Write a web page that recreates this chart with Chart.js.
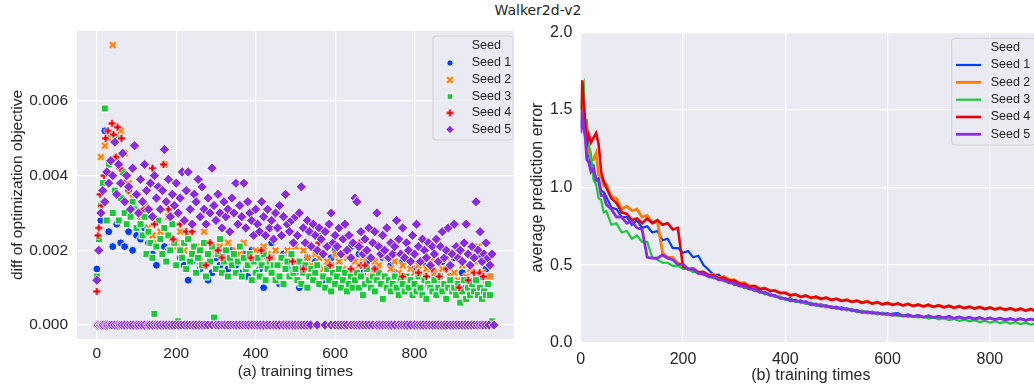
<!DOCTYPE html>
<html>
<head>
<meta charset="utf-8">
<script src="https://cdn.jsdelivr.net/npm/chart.js@4.4.1/dist/chart.umd.min.js"></script>
<style>
  html, body { margin: 0; padding: 0; background: #fff; width: 1034px; height: 389px; overflow: hidden; }
  #title { position: absolute; left: 438px; width: 200px; top: 2px; text-align: center; font: 14px "DejaVu Sans", sans-serif; color: #262626; }
  #left { position: absolute; left: 0; top: 0; }
  #right { position: absolute; left: 520px; top: 0; }
</style>
</head>
<body>
<div id="title">Walker2d-v2</div>
<canvas id="left" width="520" height="389"></canvas>
<canvas id="right" width="521" height="389"></canvas>
<script>
// ---- shared ----
const seedNames = ['Seed 1', 'Seed 2', 'Seed 3', 'Seed 4', 'Seed 5'];
const seedColors = ['#023eff', '#ff7c00', '#1ac938', '#e8000b', '#8b2be2'];

// ---- (a) diff of optimization objective, values in units of 1e-4 ----
const diffXTicks = [0, 200, 400, 600, 800];
const diffYTicks = [0, 0.002, 0.004, 0.006];

// seed 1 and seed 2 sampled every 10 training times (0..990)
const seed1Diff = [
  15, 28, 52, 25, 21, 27, 22, 21, 25, 20,
  24, 23, 26, 22, 19, 16, 23, 21, 20, 23,
  21, 18, 16, 12, 17, 19, 15, 16, 12, 14,
  18, 16, 19, 15, 20, 16, 14, 19, 13, 20,
  17, 15, 10, 18, 22, 16, 11, 19, 15, 17,
  14, 10, 16, 18, 13, 17, 19, 12, 15, 18,
  20, 14, 12, 9, 21, 10, 19, 14, 17, 12,
  15, 13, 18, 11, 16, 14, 12, 17, 13, 10,
  15, 9, 13, 16, 11, 14, 12, 17, 10, 13,
  18, 11, 14, 10, 16, 12, 18, 13, 15, 13
];
const seed2Diff = [
  13, 45, 48, 50, 75, 44, 52, 46, 38, 34,
  30, 28, 32, 26, 24, 22, 25, 43, 29, 21,
  22, 25, 20, 24, 19, 21, 17, 25, 22, 20,
  19, 21, 18, 22, 17, 20, 19, 22, 16, 18,
  20, 17, 21, 19, 18, 20, 16, 18, 20, 17,
  21, 17, 20, 18, 16, 19, 18, 15, 17, 16,
  19, 17, 15, 18, 14, 17, 16, 18, 15, 14,
  17, 16, 13, 18, 15, 17, 14, 16, 18, 15,
  14, 16, 13, 15, 17, 14, 12, 15, 18, 13,
  14, 12, 16, 13, 15, 17, 21, 14, 12, 13
];
// seed 3 and seed 5 sampled every 5 training times (0..995)
const seed3Diff = [
  13, 23, 32, 38, 58, 28, 43, 51, 30, 36,
  50, 28, 34, 41, 30, 27, 36, 29, 33, 31,
  26, 30, 27, 24, 29, 19, 25, 22, 18, 3,
  21, 28, 23, 19, 26, 17, 24, 20, 27, 22,
  16, 1, 20, 18, 22, 15, 23, 17, 19, 21,
  14, 18, 20, 16, 22, 13, 19, 17, 21, 2,
  15, 19, 23, 14, 17, 20, 13, 18, 16, 19,
  14, 17, 21, 13, 18, 15, 16, 19, 12, 17,
  14, 18, 13, 16, 19, 12, 15, 17, 14, 16,
  12, 16, 13, 18, 11, 15, 17, 13, 19, 14,
  15, 12, 17, 11, 14, 16, 10, 13, 15, 12,
  14, 16, 11, 25, 13, 10, 15, 12, 9, 14,
  11, 13, 15, 10, 12, 14, 9, 11, 13, 10,
  12, 14, 10, 13, 8, 11, 15, 12, 10, 13,
  9, 12, 14, 11, 7, 13, 10, 12, 9, 11,
  13, 10, 8, 12, 11, 9, 13, 10, 12, 8,
  11, 9, 13, 10, 8, 12, 7, 11, 10, 9,
  12, 8, 10, 13, 9, 11, 7, 10, 12, 9,
  10, 8, 11, 6, 9, 12, 7, 10, 8, 11,
  9, 12, 8, 10, 7, 9, 8, 11, 8, 1
];
const seed5Diff = [
  12, 20, 30, 36, 33, 41, 38, 44, 40, 49,
  35, 43, 38, 46, 33, 40, 37, 31, 42, 48,
  35, 30, 39, 33, 43, 36, 31, 38, 29, 40,
  34, 37, 31, 36, 47, 33, 39, 29, 35, 32,
  38, 30, 34, 41, 28, 36, 41, 31, 27, 35,
  33, 39, 29, 37, 31, 27, 34, 30, 42, 32,
  28, 35, 30, 26, 33, 29, 31, 25, 34, 30,
  38, 27, 32, 29, 38, 26, 33, 30, 28, 24,
  31, 27, 25, 33, 29, 24, 31, 26, 28, 23,
  30, 26, 32, 24, 29, 35, 27, 25, 28, 22,
  29, 24, 30, 37, 26, 22, 28, 25, 21, 27,
  24, 20, 26, 23, 19, 25, 21, 27, 30, 22,
  24, 21, 26, 19, 23, 27, 20, 24, 18, 22,
  34, 33, 21, 25, 19, 23, 20, 26, 18, 22,
  25, 30, 21, 19, 24, 20, 26, 18, 22, 19,
  21, 28, 23, 19, 26, 18, 22, 20, 17, 24,
  19, 27, 21, 17, 23, 20, 18, 22, 16, 21,
  19, 23, 17, 21, 25, 18, 20, 26, 16, 19,
  27, 21, 18, 20, 17, 22, 27, 19, 16, 21,
  18, 33, 20, 25, 17, 19, 22, 18, 16, 19
];
// seed 4 only logged at a few training times
const seed4Times = [0, 3, 5, 8, 12, 18, 22, 28, 32, 38, 42, 48, 52, 58, 62, 70, 80, 118, 140, 145,
  168, 180, 192, 210, 225, 240, 275, 285, 305, 315, 388, 414, 435, 493, 520, 559, 587, 640, 661, 665,
  675, 700, 730, 770, 810, 830, 844, 862, 880, 912, 935, 950, 964, 973];
const seed4Diff = [9, 24, 26, 35, 32, 40, 50, 52, 44, 54, 51, 45, 53, 42, 50, 38, 36, 31, 42, 27,
  43, 31, 23, 27, 25, 25, 16, 22, 20, 18, 18, 20, 18, 17, 15, 22, 16, 15, 22, 16,
  16, 15, 18, 13, 14, 13, 15, 13, 15, 10, 12, 14, 14, 13];
// training times where seed 5 diff was exactly 0
const seed5ZeroTimes = [0, 4, 8, 12, 16, 22, 27, 33, 38, 45, 52, 58, 63, 70, 78, 85, 92, 100, 106, 113,
  120, 128, 133, 140, 147, 153, 160, 168, 175, 183, 190, 197, 205, 212, 220, 228, 235, 243, 250, 258,
  265, 272, 280, 290, 300, 307, 315, 322, 330, 338, 345, 352, 360, 368, 375, 382, 390, 398, 405, 412,
  420, 428, 436, 445, 452, 460, 470, 478, 485, 493, 500, 508, 515, 522, 530, 538, 555, 575, 590, 600,
  608, 615, 623, 630, 640, 648, 655, 662, 670, 678, 686, 695, 705, 712, 720, 728, 735, 742, 750, 760,
  768, 775, 782, 790, 800, 808, 815, 822, 830, 838, 845, 852, 860, 868, 875, 882, 890, 898, 905, 912,
  920, 928, 935, 943, 950, 958, 965, 972, 980, 988, 1000];

// ---- (b) average prediction error ----
const predXTicks = [0, 200, 400, 600, 800];
const predYTicks = [0, 0.5, 1, 1.5, 2];
const predTimes = [0, 3, 6, 9, 12, 16, 20, 25, 30, 35, 40, 45]
  .concat(Array.from({ length: 86 }, (_, i) => 50 + i * 10));

const seed1Err = [
  1.38, 1.52, 1.40, 1.36, 1.20, 1.22, 1.12, 1.14, 1.05, 1.06, 0.98, 0.97,
  0.94, 0.87, 0.86, 0.81, 0.81, 0.76, 0.79, 0.74, 0.75, 0.71,
  0.72, 0.66, 0.67, 0.61, 0.61, 0.58, 0.59, 0.55, 0.56, 0.50,
  0.47, 0.435, 0.438, 0.402, 0.408, 0.372, 0.378, 0.352, 0.358, 0.332,
  0.338, 0.312, 0.318, 0.293, 0.297, 0.278, 0.287, 0.263, 0.272, 0.252,
  0.258, 0.238, 0.248, 0.228, 0.236, 0.218, 0.228, 0.208, 0.217, 0.198,
  0.206, 0.19, 0.2, 0.183, 0.194, 0.178, 0.188, 0.19, 0.174, 0.182,
  0.168, 0.178, 0.164, 0.175, 0.162, 0.172, 0.159, 0.172, 0.157, 0.167,
  0.155, 0.165, 0.152, 0.164, 0.15, 0.161, 0.148, 0.16, 0.146, 0.157,
  0.144, 0.157, 0.143, 0.154, 0.144, 0.152
];
const seed2Err = [
  1.45, 1.58, 1.47, 1.42, 1.22, 1.25, 1.18, 1.18, 1.22, 1.08, 1.07, 1.01,
  1.02, 0.94, 0.93, 0.86, 0.88, 0.85, 0.86, 0.81, 0.82, 0.77,
  0.78, 0.58, 0.55, 0.55, 0.51, 0.51, 0.47, 0.48, 0.45, 0.455,
  0.435, 0.44, 0.418, 0.426, 0.404, 0.406, 0.384, 0.386, 0.364, 0.366,
  0.346, 0.352, 0.334, 0.338, 0.32, 0.324, 0.306, 0.312, 0.296, 0.304,
  0.288, 0.298, 0.282, 0.29, 0.276, 0.284, 0.27, 0.278, 0.264, 0.272,
  0.258, 0.268, 0.252, 0.262, 0.248, 0.258, 0.244, 0.254, 0.24, 0.251,
  0.237, 0.247, 0.234, 0.244, 0.231, 0.241, 0.228, 0.238, 0.225, 0.236,
  0.222, 0.233, 0.22, 0.23, 0.217, 0.228, 0.214, 0.225, 0.212, 0.222,
  0.209, 0.22, 0.206, 0.218, 0.204, 0.214
];
const seed3Err = [
  1.50, 1.62, 1.66, 1.42, 1.43, 1.27, 1.22, 1.05, 1.02, 0.93, 0.92, 0.84,
  0.85, 0.76, 0.77, 0.71, 0.72, 0.67, 0.69, 0.65, 0.65, 0.55,
  0.535, 0.515, 0.515, 0.495, 0.495, 0.475, 0.475, 0.455, 0.455, 0.435,
  0.435, 0.415, 0.415, 0.395, 0.395, 0.375, 0.375, 0.355, 0.355, 0.335,
  0.335, 0.315, 0.315, 0.295, 0.295, 0.275, 0.28, 0.265, 0.265, 0.25,
  0.255, 0.24, 0.245, 0.23, 0.235, 0.22, 0.225, 0.21, 0.215, 0.2,
  0.205, 0.192, 0.197, 0.185, 0.19, 0.178, 0.184, 0.172, 0.178, 0.166,
  0.172, 0.161, 0.167, 0.155, 0.162, 0.15, 0.158, 0.145, 0.153, 0.141,
  0.149, 0.137, 0.145, 0.133, 0.141, 0.13, 0.138, 0.126, 0.135, 0.123,
  0.132, 0.12, 0.129, 0.117, 0.126, 0.115
];
const seed4Err = [
  1.50, 1.69, 1.52, 1.42, 1.28, 1.34, 1.29, 1.32, 1.35, 1.28, 1.10, 1.04,
  1.00, 0.93, 0.90, 0.84, 0.83, 0.79, 0.80, 0.77, 0.80, 0.77,
  0.79, 0.76, 0.77, 0.73, 0.74, 0.49, 0.475, 0.475, 0.455, 0.455,
  0.435, 0.435, 0.415, 0.42, 0.4, 0.4, 0.38, 0.38, 0.36, 0.365,
  0.345, 0.35, 0.335, 0.335, 0.32, 0.32, 0.305, 0.31, 0.295, 0.303,
  0.29, 0.295, 0.283, 0.29, 0.275, 0.283, 0.27, 0.275, 0.263, 0.27,
  0.257, 0.265, 0.252, 0.26, 0.247, 0.255, 0.243, 0.252, 0.24, 0.249,
  0.237, 0.245, 0.234, 0.243, 0.231, 0.24, 0.228, 0.237, 0.225, 0.234,
  0.223, 0.231, 0.22, 0.23, 0.217, 0.226, 0.215, 0.223, 0.212, 0.221,
  0.209, 0.219, 0.206, 0.216, 0.203, 0.212
];
const seed5Err = [
  1.35, 1.50, 1.38, 1.32, 1.18, 1.16, 1.10, 1.12, 1.05, 1.04, 0.95, 0.95,
  0.89, 0.86, 0.81, 0.81, 0.77, 0.78, 0.74, 0.73, 0.55, 0.545,
  0.545, 0.565, 0.545, 0.535, 0.505, 0.505, 0.475, 0.475, 0.445, 0.445,
  0.425, 0.425, 0.405, 0.405, 0.385, 0.385, 0.365, 0.365, 0.345, 0.345,
  0.325, 0.325, 0.305, 0.305, 0.285, 0.285, 0.27, 0.275, 0.26, 0.265,
  0.245, 0.25, 0.235, 0.24, 0.225, 0.23, 0.215, 0.22, 0.205, 0.21,
  0.195, 0.2, 0.19, 0.194, 0.183, 0.188, 0.177, 0.182, 0.172, 0.178,
  0.168, 0.175, 0.165, 0.171, 0.162, 0.168, 0.16, 0.166, 0.157, 0.164,
  0.155, 0.162, 0.153, 0.16, 0.151, 0.158, 0.149, 0.156, 0.148, 0.154,
  0.146, 0.153, 0.145, 0.152, 0.144, 0.15
];

// ---- helpers ----
const tickFont = (size) => ({ family: '"Liberation Sans", Arial, sans-serif', size });
const textColor = '#262626';

const plotBg = {
  id: 'plotBg',
  beforeDraw(chart) {
    const { ctx, chartArea: a } = chart;
    ctx.save();
    ctx.fillStyle = '#eaeaf2';
    ctx.fillRect(a.left, a.top, a.right - a.left, a.bottom - a.top);
    ctx.restore();
  }
};

// filled "X" / "P" markers like matplotlib's
function markerImage(color, rot) {
  const s = 11;
  const c = document.createElement('canvas');
  c.width = s; c.height = s;
  const g = c.getContext('2d');
  g.translate(s / 2, s / 2);
  g.rotate(rot);
  const L = rot ? 4.4 : 4.0, a = 1.4;
  g.beginPath();
  g.moveTo(-a, -L); g.lineTo(a, -L); g.lineTo(a, -a); g.lineTo(L, -a); g.lineTo(L, a); g.lineTo(a, a);
  g.lineTo(a, L); g.lineTo(-a, L); g.lineTo(-a, a); g.lineTo(-L, a); g.lineTo(-L, -a); g.lineTo(-a, -a);
  g.closePath();
  g.fillStyle = color;
  g.fill();
  g.strokeStyle = '#fff';
  g.lineWidth = 0.7;
  g.stroke();
  return c;
}

function roundBox(ctx, x, y, w, h, r) {
  ctx.beginPath();
  ctx.moveTo(x + r, y);
  ctx.lineTo(x + w - r, y); ctx.quadraticCurveTo(x + w, y, x + w, y + r);
  ctx.lineTo(x + w, y + h - r); ctx.quadraticCurveTo(x + w, y + h, x + w - r, y + h);
  ctx.lineTo(x + r, y + h); ctx.quadraticCurveTo(x, y + h, x, y + h - r);
  ctx.lineTo(x, y + r); ctx.quadraticCurveTo(x, y, x + r, y);
  ctx.closePath();
}

// seaborn-like legend with "Seed" as first (handle-less) entry
function seedLegend(o) {
  return {
    id: 'seedLegend',
    afterDraw(chart) {
      const ctx = chart.ctx;
      ctx.save();
      roundBox(ctx, o.box[0], o.box[1], o.box[2], o.box[3], 3);
      ctx.fillStyle = 'rgba(234,234,242,0.8)';
      ctx.fill();
      ctx.strokeStyle = 'rgba(204,204,204,0.8)';
      ctx.lineWidth = 1;
      ctx.stroke();
      ctx.font = '12.5px "Liberation Sans", Arial, sans-serif';
      ctx.textBaseline = 'middle';
      ctx.fillStyle = textColor;
      ctx.fillText('Seed', o.textX, o.rows[0]);
      seedNames.forEach((name, i) => {
        const ds = chart.data.datasets[i];
        const y = o.rows[i + 1];
        if (o.lines) {
          ctx.strokeStyle = seedColors[i];
          ctx.lineWidth = ds.borderWidth;
          ctx.beginPath();
          ctx.moveTo(o.handle[0], y);
          ctx.lineTo(o.handle[1], y);
          ctx.stroke();
        } else {
          ctx.fillStyle = seedColors[i];
          ctx.strokeStyle = '#fff';
          Chart.helpers.drawPoint(ctx, { pointStyle: ds.pointStyle, radius: ds.pointRadius * 0.8, rotation: 0, borderWidth: 0.5 }, o.handle[0], y);
        }
        ctx.fillStyle = textColor;
        ctx.fillText(name, o.textX, y);
      });
      ctx.restore();
    }
  };
}

// ---- left: scatter ----
const t10 = Array.from({ length: 100 }, (_, i) => i * 10);
const t5 = Array.from({ length: 200 }, (_, i) => i * 5);
const toPts = (times, vals) => vals.map((v, i) => ({ x: times[i], y: v * 1e-4 }));

const scatterSeries = [
  { data: toPts(t10, seed1Diff), style: 'circle', r: 4 },
  { data: toPts(t10, seed2Diff), style: markerImage(seedColors[1], Math.PI / 4), r: 5 },
  { data: toPts(t5, seed3Diff), style: 'rect', r: 5 },
  { data: toPts(seed4Times, seed4Diff), style: markerImage(seedColors[3], 0), r: 5 },
  { data: toPts(t5, seed5Diff).concat(seed5ZeroTimes.map(x => ({ x, y: 0 }))), style: 'rectRot', r: 5.2 }
];

new Chart(document.getElementById('left'), {
  type: 'scatter',
  data: {
    datasets: scatterSeries.map((s, i) => ({
      label: seedNames[i],
      data: s.data,
      pointStyle: s.style,
      pointRadius: s.r,
      backgroundColor: seedColors[i],
      borderColor: '#ffffff',
      borderWidth: 1,
      order: seedNames.length - i
    }))
  },
  options: {
    responsive: false,
    animation: false,
    events: [],
    layout: { padding: { top: 31, right: 0, bottom: 0, left: 0 } },
    plugins: { legend: { display: false }, tooltip: { enabled: false } },
    scales: {
      x: {
        type: 'linear', min: -50, max: 1050,
        afterBuildTicks: (s) => { s.ticks = diffXTicks.map(v => ({ value: v })); },
        afterFit: (s) => { s.height = 50; },
        grid: { color: '#ffffff', lineWidth: 1.2, drawTicks: false },
        border: { display: false },
        ticks: { color: textColor, font: tickFont(15.5), padding: 5 },
        title: { display: true, text: '(a) training times', color: textColor, font: tickFont(15.5), padding: { top: 0, bottom: 8 } }
      },
      y: {
        type: 'linear', min: -0.000375, max: 0.007875,
        afterBuildTicks: (s) => { s.ticks = diffYTicks.map(v => ({ value: v })); },
        afterFit: (s) => { s.width = 77; },
        grid: { color: '#ffffff', lineWidth: 1.2, drawTicks: false },
        border: { display: false },
        ticks: { color: textColor, font: tickFont(15.5), padding: 9, callback: (v) => v.toFixed(3) },
        title: { display: true, text: 'diff of optimization objective', color: textColor, font: tickFont(15.5), padding: { top: 8, bottom: 0 } }
      }
    }
  },
  plugins: [plotBg, seedLegend({
    box: [433, 36, 80, 104],
    rows: [46, 63, 80, 96.5, 113, 129.5],
    handle: [450],
    textX: 471.7
  })]
});

// ---- right: lines ----
const errSeries = [seed1Err, seed2Err, seed3Err, seed4Err, seed5Err];
const errWidths = [2.2, 2.8, 2.2, 2.6, 2.8];

new Chart(document.getElementById('right'), {
  type: 'line',
  data: {
    datasets: errSeries.map((vals, i) => ({
      label: seedNames[i],
      data: vals.map((v, j) => ({ x: predTimes[j], y: v })),
      borderColor: seedColors[i],
      borderWidth: errWidths[i],
      pointRadius: 0,
      tension: 0,
      fill: false,
      order: seedNames.length - i
    }))
  },
  options: {
    responsive: false,
    animation: false,
    events: [],
    layout: { padding: { top: 32.3, right: 0, bottom: 0, left: 0 } },
    plugins: { legend: { display: false }, tooltip: { enabled: false } },
    scales: {
      x: {
        type: 'linear', min: 0, max: 900,
        afterBuildTicks: (s) => { s.ticks = predXTicks.map(v => ({ value: v })); },
        afterFit: (s) => { s.height = 46.3; },
        grid: { color: '#ffffff', lineWidth: 1.2, drawTicks: false },
        border: { display: false },
        ticks: { color: textColor, font: tickFont(16), padding: 7 },
        title: { display: true, text: '(b) training times', color: textColor, font: tickFont(16), padding: { top: 0, bottom: 3.4 } }
      },
      y: {
        type: 'linear', min: 0, max: 2,
        afterBuildTicks: (s) => { s.ticks = predYTicks.map(v => ({ value: v })); },
        afterFit: (s) => { s.width = 60.7; },
        grid: { color: '#ffffff', lineWidth: 1.2, drawTicks: false },
        border: { display: false },
        ticks: { color: textColor, font: tickFont(16), padding: 8.4, callback: (v) => v.toFixed(1) },
        title: { display: true, text: 'average prediction error', color: textColor, font: tickFont(16), padding: { top: 8.4, bottom: 0 } }
      }
    }
  },
  plugins: [plotBg, seedLegend({
    box: [431.7, 38.3, 83.3, 106.7],
    rows: [47.7, 65, 82.3, 99.7, 117, 134.3],
    handle: [436, 461],
    textX: 470.7,
    lines: true
  })]
});
</script>
</body>
</html>
